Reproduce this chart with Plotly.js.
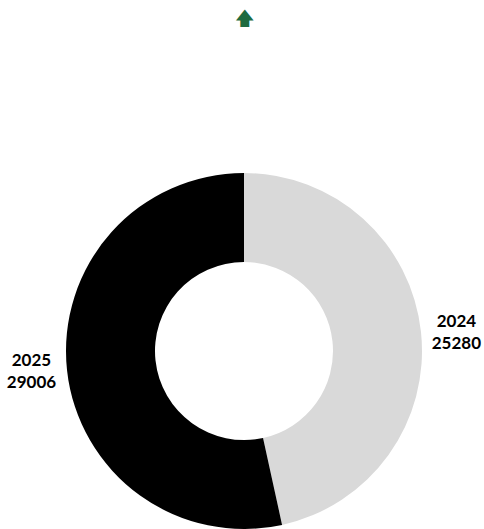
<!DOCTYPE html>
<html>
<head>
<meta charset="utf-8">
<script src="https://cdn.plot.ly/plotly-3.0.1.min.js"></script>
<style>html,body{margin:0;padding:0;background:#fff;}#chart{width:484px;height:529px;}</style>
</head>
<body>
<div id="chart"></div>
<script>
const years = ["2024", "2025"];
const values = [25280, 29006];
const colors = ["#d9d9d9", "#000000"];
const arrowText = "🡅";

const trace = {
  type: "pie",
  labels: years,
  values: values,
  hole: 0.5,
  sort: false,
  direction: "clockwise",
  rotation: 0,
  marker: {colors: colors},
  texttemplate: "%{label}<br>%{value:d}",
  textposition: "outside",
  textfont: {family: "Lato, sans-serif", size: 17, color: "#000", weight: "bold"},
  automargin: false,
  showlegend: false,
  hoverinfo: "none"
};

const layout = {
  width: 484,
  height: 529,
  margin: {l: 4, r: 0, t: 173, b: 0},
  paper_bgcolor: "#ffffff",
  plot_bgcolor: "#ffffff",
  title: {text: arrowText, x: 0.507, xanchor: "center", y: 0.977, yanchor: "top",
          font: {family: "DejaVu Sans", size: 19, color: "#1e6b40"}},
  showlegend: false
};

Plotly.newPlot("chart", [trace], layout, {displayModeBar: false, staticPlot: true});
</script>
</body>
</html>
